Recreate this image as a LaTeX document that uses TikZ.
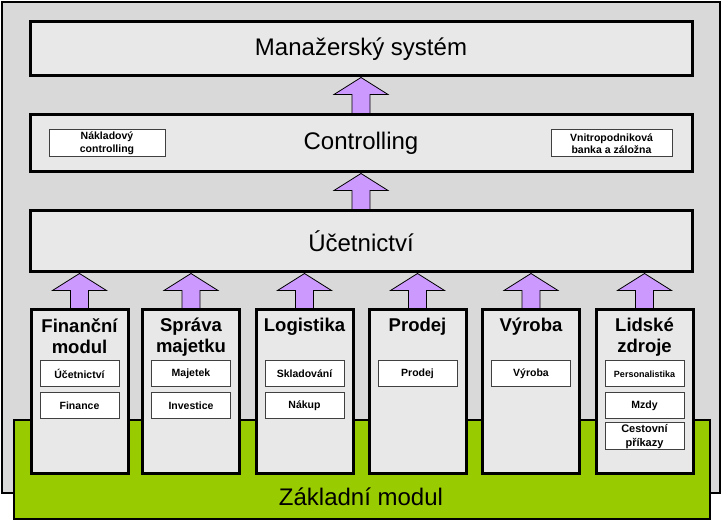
\documentclass[tikz,border=0pt]{standalone}
\usepackage{fontspec}
\setmainfont{Liberation Sans}
\usetikzlibrary{calc}
\definecolor{outergray}{RGB}{217,217,217}
\definecolor{boxgray}{RGB}{232,232,232}
\definecolor{limegreen}{RGB}{153,204,0}
\definecolor{lilac}{RGB}{204,153,255}
\pgfdeclarelayer{back}
\pgfdeclarelayer{mid}
\pgfsetlayers{back,mid,main}
\newcommand\blockarrow[2]{%
  \filldraw[barrowstyle] let \p1=(#1), \p2=(#2) in
    ({\x1-9pt},\y1) -- ({\x1-9pt},{\y2-17pt}) -- ({\x1-27pt},{\y2-17pt}) --
    (\x1,\y2) -- ({\x1+27pt},{\y2-17pt}) -- ({\x1+9pt},{\y2-17pt}) --
    ({\x1+9pt},\y1) -- cycle;}
\begin{document}
\begin{tikzpicture}[x=1pt,y=1pt,
  bigbox/.style={draw=black, line width=3pt, fill=boxgray, minimum width=662pt, inner sep=0pt, font=\fontsize{24}{28}\selectfont},
  colbox/.style={draw=black, line width=3pt, fill=boxgray, minimum width=97pt, minimum height=164pt, inner sep=0pt},
  coltitle/.style={anchor=north, align=center, inner sep=0pt, font=\fontsize{18.5}{21}\selectfont\bfseries},
  subbox/.style={draw=black!75, line width=1pt, fill=white, minimum width=79pt, minimum height=26pt, inner sep=0pt, align=center, font=\fontsize{10.5}{12.5}\selectfont\bfseries},
  barrowstyle/.style={fill=lilac, draw=black, line width=0.8pt}]
\useasboundingbox (0,0) rectangle (722,521);

\begin{pgfonlayer}{back}
  \node[draw=black, line width=2pt, fill=outergray, minimum width=718pt, minimum height=491pt, inner sep=0pt] (outer) at (361,273.5) {};
  \node[draw=black, line width=2pt, fill=limegreen, minimum width=696pt, minimum height=99pt, inner sep=0pt] (base) at (362,51.5) {};
\end{pgfonlayer}
\node[font=\fontsize{24}{28}\selectfont] (basetext) at (361,24) {Základní modul};

% main boxes
\node[bigbox, minimum height=54pt] (mgr) at (361,472) {Manažerský systém};
\node[bigbox, minimum height=57pt] (ctrl) at (361,377.5) {Controlling};
\node[subbox, minimum width=116pt, minimum height=27pt] (nakl) at (107,377.5) {Nákladový\\controlling};
\node[subbox, minimum width=121pt, minimum height=27pt] (vnitro) at (611.5,377.5) {Vnitropodniková\\banka a záložna};
\node[bigbox, minimum height=61pt] (ucet) at (361,279.5) {Účetnictví};

% columns
\node[colbox] (c1) at (79.5,129) {};
\node[colbox] (c2) at (191,129) {};
\node[colbox] (c3) at (304.5,129) {};
\node[colbox] (c4) at (417.5,129) {};
\node[colbox] (c5) at (531,129) {};
\node[colbox] (c6) at (644.5,129) {};

\node[coltitle] (t1) at ([yshift=-9.5pt]c1.north) {Finanční\\modul};
\node[coltitle] (t2) at ([yshift=-9.5pt]c2.north) {Správa\\majetku};
\node[coltitle] (t3) at ([yshift=-9.5pt]c3.north) {Logistika};
\node[coltitle] (t4) at ([yshift=-9.5pt]c4.north) {Prodej};
\node[coltitle] (t5) at ([yshift=-9.5pt]c5.north) {Výroba};
\node[coltitle] (t6) at ([yshift=-9.5pt]c6.north) {Lidské\\zdroje};

\node[subbox] (s11) at (79.5,147) {Účetnictví};
\node[subbox] (s12) at (79.5,115.5) {Finance};
\node[subbox] (s21) at (191,147) {Majetek};
\node[subbox] (s22) at (191,115.5) {Investice};
\node[subbox] (s31) at (304.5,147) {Skladování};
\node[subbox] (s32) at (304.5,115.5) {Nákup};
\node[subbox] (s41) at (417.5,147) {Prodej};
\node[subbox] (s51) at (531,147) {Výroba};
\node[subbox, font=\fontsize{9}{11}\selectfont\bfseries] (s61) at (644.5,147) {Personalistika};
\node[subbox] (s62) at (644.5,115.5) {Mzdy};
\node[subbox, minimum height=27pt, font=\fontsize{11}{13.5}\selectfont\bfseries] (s63) at (644.5,84.5) {Cestovní\\příkazy};

% arrows
\begin{pgfonlayer}{mid}
  \blockarrow{ctrl.north}{mgr.south}
  \blockarrow{ucet.north}{ctrl.south}
  \blockarrow{c1.north}{c1.north |- ucet.south}
  \blockarrow{c2.north}{c2.north |- ucet.south}
  \blockarrow{c3.north}{c3.north |- ucet.south}
  \blockarrow{c4.north}{c4.north |- ucet.south}
  \blockarrow{c5.north}{c5.north |- ucet.south}
  \blockarrow{c6.north}{c6.north |- ucet.south}
\end{pgfonlayer}
\end{tikzpicture}
\end{document}
